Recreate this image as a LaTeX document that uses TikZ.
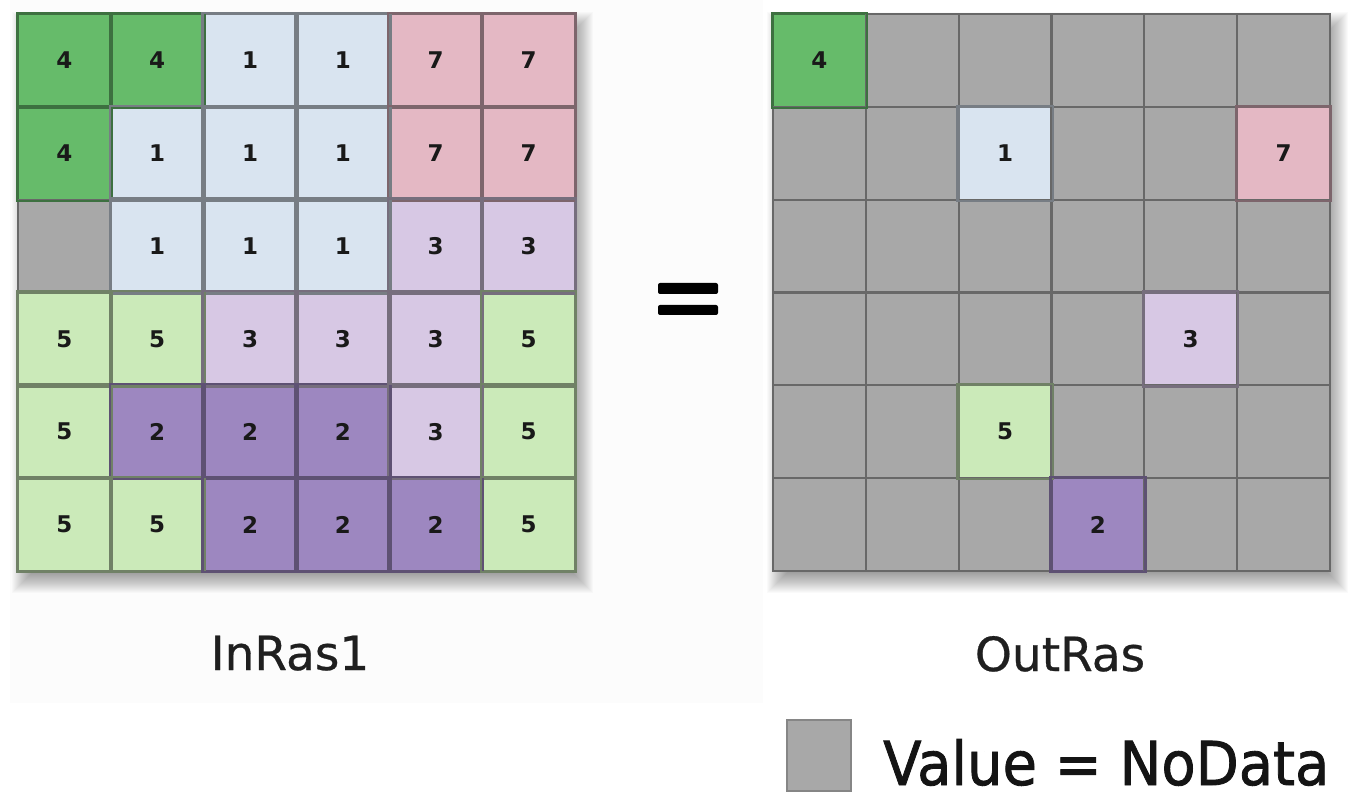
\documentclass[tikz,border=0pt]{standalone}
\usepackage{fontspec}
\setmainfont{DejaVu Sans}
\newfontfamily\labelfont[FakeBold=0.6]{DejaVu Sans}
\newfontfamily\legendfont[FakeBold=1.4]{DejaVu Sans}
\definecolor{cfour}{RGB}{102,187,106}
\definecolor{cone}{RGB}{217,228,240}
\definecolor{cseven}{RGB}{228,184,196}
\definecolor{cthree}{RGB}{215,200,228}
\definecolor{cfive}{RGB}{203,234,185}
\definecolor{ctwo}{RGB}{157,135,192}
\definecolor{cnone}{RGB}{168,168,168}
\definecolor{panel}{RGB}{252,252,252}
\definecolor{digit}{RGB}{25,25,25}
\tikzset{
  cell/.style={rectangle, minimum size=92.83pt, inner sep=0pt, line width=2.2pt,
    font=\fontsize{23}{23}\selectfont\bfseries, text=digit},
  v4/.style={fill=cfour, draw=cfour!60!black},
  v1/.style={fill=cone, draw=cone!55!black},
  v7/.style={fill=cseven, draw=cseven!55!black},
  v3/.style={fill=cthree, draw=cthree!55!black},
  v5/.style={fill=cfive, draw=cfive!55!black},
  v2/.style={fill=ctwo, draw=ctwo!60!black},
  vN/.style={fill=cnone, draw=cnone!62!black},
  b4/.style={draw=cfour!60!black},
  b1/.style={draw=cone!55!black},
  b7/.style={draw=cseven!55!black},
  b3/.style={draw=cthree!55!black},
  b5/.style={draw=cfive!55!black},
  b2/.style={draw=ctwo!60!black},
  rlabel/.style={anchor=base, font=\labelfont\fontsize{47}{50}\selectfont, text=black!88},
}
% soft drop shadow behind a rectangle (x0,y0)-(x1,y1)
\newcommand\gridshadow[4]{%
  \foreach \i in {0,...,23}{%
    \fill[black, opacity=0.02]
      ({#1+6-12+\i},{#2+10-12+\i}) rectangle ({#3+6+12-\i},{#4+10+12-\i});
  }%
}
% a 6x6 raster of values; N marks NoData
\newcommand\raster[4]{%
  \foreach \row [count=\r] in {#4}{%
    \foreach \v [count=\c] in \row{%
      \node[cell, v\v] (#1-\r-\c) at ({#2+92.83*(\c-0.5)},{#3+92.83*(\r-0.5)})
        {\if N\v\else\v\fi};
    }%
  }%
  \foreach \row [count=\r] in {#4}{%
    \foreach \v [count=\c] in \row{%
      \if N\v\else
        \draw[b\v, line width=2.2pt] (#1-\r-\c.north west) rectangle (#1-\r-\c.south east);
      \fi
    }%
  }%
}
\begin{document}
\begin{tikzpicture}[x=1pt, y=-1pt]
  \useasboundingbox (0,0) rectangle (1365,799);
  \fill[white] (0,0) rectangle (1365,799);
  \fill[panel] (10,0) rectangle (763,703);

  % input raster
  \gridshadow{18}{14}{575}{571}
  \raster{L}{18}{14}{{4,4,1,1,7,7},{4,1,1,1,7,7},{N,1,1,1,3,3},{5,5,3,3,3,5},{5,2,2,2,3,5},{5,5,2,2,2,5}}
  \node[rlabel] (inlabel) at (290,670) {InRas1};

  % equals sign
  \fill[black, rounded corners=2pt] (658,283) rectangle (718,294);
  \fill[black, rounded corners=2pt] (658,305) rectangle (718,315);

  % output raster
  \gridshadow{773}{14}{1330}{571}
  \raster{R}{773}{14}{{4,N,N,N,N,N},{N,N,1,N,N,7},{N,N,N,N,N,N},{N,N,N,N,3,N},{N,N,5,N,N,N},{N,N,N,2,N,N}}
  \node[rlabel] (outlabel) at (1060,671) {OutRas};

  % legend
  \node[rectangle, fill=cnone, draw=cnone!80!black, line width=1.5pt,
        minimum width=64pt, minimum height=71pt, inner sep=0pt] (legbox) at (819,755.5) {};
  \node[anchor=base west, inner sep=0pt, text=black!92] (legtext) at (883,785)
    {\scalebox{1}[1.08]{\legendfont\fontsize{56}{60}\selectfont Value = NoData}};
\end{tikzpicture}
\end{document}
